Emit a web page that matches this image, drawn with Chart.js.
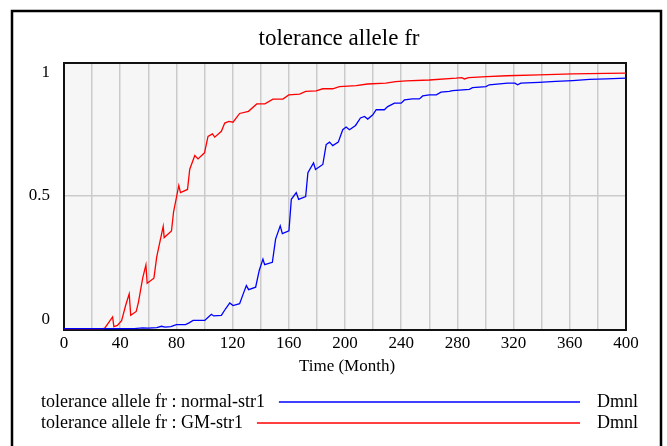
<!DOCTYPE html>
<html>
<head>
<meta charset="utf-8">
<script src="https://cdn.jsdelivr.net/npm/chart.js@4.4.1/dist/chart.umd.min.js"></script>
<style>
  html, body { margin: 0; padding: 0; background: #fff; }
  #wrap { position: relative; width: 667px; height: 446px; }
</style>
</head>
<body>
<div id="wrap"><canvas id="alleleChart" width="667" height="446"></canvas></div>
<script>
/* global Chart */

const chartTitle = 'tolerance allele fr'
const xAxisTitle = 'Time (Month)'
const unitLabel = 'Dmnl'
const seriesNames = ['tolerance allele fr : normal-str1', 'tolerance allele fr : GM-str1']

const xTickValues = [0, 40, 80, 120, 160, 200, 240, 280, 320, 360, 400]
const yTickValues = [0, 0.5, 1]

// normal-str1 (blue)
const blueMonths = [0, 50, 56, 60, 66, 69.4, 72, 76, 80, 86.5, 89, 91.9, 100.2, 103, 104.9, 106.5, 112, 115, 118, 120.3,
  125, 127.5, 129.8, 131.4, 136.4, 139, 141.6, 142.8, 148.3, 150.6, 153.9, 155.4, 160.1, 161.8, 165.3, 167, 172, 173.6,
  177.6, 179, 184.2, 186.6, 189, 191.3, 195.2, 198.4, 200.8, 203.2, 207.5, 211, 213.9, 216.2, 219.8, 222.2, 228, 230.4,
  235.2, 240, 242.3, 248, 253, 255.3, 260, 265, 268.3, 274.2, 276.6, 288.5, 290.8, 300.3, 302.7, 315.7, 321, 322.8,
  325.2, 338, 350, 362, 374, 386, 400]
const blueValues = [0, 0, 0.003, 0.002, 0.004, 0.009, 0.006, 0.008, 0.015, 0.015, 0.022, 0.031, 0.031, 0.045, 0.054, 0.048,
  0.05, 0.075, 0.097, 0.087, 0.094, 0.13, 0.162, 0.147, 0.156, 0.22, 0.262, 0.241, 0.25, 0.337, 0.387, 0.358, 0.368,
  0.487, 0.512, 0.487, 0.497, 0.587, 0.624, 0.599, 0.618, 0.693, 0.702, 0.689, 0.702, 0.749, 0.759, 0.749, 0.765, 0.793,
  0.799, 0.789, 0.805, 0.824, 0.824, 0.836, 0.849, 0.849, 0.861, 0.865, 0.865, 0.876, 0.88, 0.88, 0.89, 0.893, 0.896,
  0.901, 0.907, 0.911, 0.918, 0.924, 0.924, 0.918, 0.924, 0.927, 0.931, 0.934, 0.938, 0.94, 0.943]

// GM-str1 (red)
const redMonths = [0, 28, 29, 34.6, 35.5, 38, 41, 44, 46.4, 47.5, 51.4, 53, 56, 58.3, 59.2, 64, 66, 70.6, 71.3, 76.5, 78,
  81.7, 82.9, 87.9, 89.5, 93.1, 95.4, 100, 102.5, 105.6, 107.3, 112, 114.4, 117.4, 120.3, 125, 131.3, 137.2, 143, 148.7,
  155.8, 160, 167.7, 172, 179.5, 184.2, 191.3, 196, 208, 216, 229, 236, 243.5, 260, 279, 283, 285, 288, 301, 315, 338,
  362, 386, 400]
const redValues = [0, 0, 0.002, 0.044, 0.008, 0.012, 0.03, 0.09, 0.131, 0.05, 0.065, 0.1, 0.19, 0.24, 0.171, 0.19, 0.27,
  0.385, 0.343, 0.368, 0.44, 0.539, 0.512, 0.524, 0.6, 0.652, 0.639, 0.662, 0.724, 0.733, 0.721, 0.743, 0.774, 0.78,
  0.777, 0.81, 0.818, 0.846, 0.846, 0.864, 0.864, 0.88, 0.883, 0.893, 0.895, 0.903, 0.903, 0.911, 0.915, 0.921, 0.924,
  0.93, 0.933, 0.936, 0.943, 0.945, 0.94, 0.945, 0.949, 0.952, 0.955, 0.959, 0.961, 0.962]

const seriesColors = ['#0000ff', '#ff0000']
const serif = '"Liberation Serif", "DejaVu Serif", serif'

function toPoints (xs, ys) {
  return xs.map((x, i) => ({ x, y: ys[i] }))
}

const vensimFrame = {
  id: 'vensimFrame',
  beforeDraw (chart) {
    const { ctx, chartArea: a } = chart
    ctx.save()
    ctx.fillStyle = '#ffffff'
    ctx.fillRect(0, 0, chart.width, chart.height)
    ctx.fillStyle = '#f6f6f6'
    ctx.fillRect(a.left, a.top, a.right - a.left, a.bottom - a.top)
    // outer window border
    ctx.strokeStyle = '#000'
    ctx.lineWidth = 2.5
    ctx.beginPath()
    ctx.moveTo(12, chart.height + 5)
    ctx.lineTo(12, 11)
    ctx.lineTo(661, 11)
    ctx.lineTo(661, chart.height + 5)
    ctx.stroke()
    ctx.restore()
  },
  beforeDatasetsDraw (chart) {
    const { ctx, chartArea: a } = chart
    ctx.save()
    ctx.strokeStyle = '#111'
    ctx.lineWidth = 2
    ctx.strokeRect(a.left, a.top, a.right - a.left, a.bottom - a.top)
    ctx.restore()
  },
  afterDraw (chart) {
    const { ctx, chartArea: a } = chart
    const xs = chart.scales.x
    const ys = chart.scales.y
    ctx.save()
    ctx.fillStyle = '#000'

    ctx.font = `23px ${serif}`
    ctx.textAlign = 'center'
    ctx.textBaseline = 'middle'
    ctx.fillText(chartTitle, (a.left + a.right) / 2 - 6, 39)

    ctx.font = `17px ${serif}`
    xTickValues.forEach(v => {
      ctx.fillText(String(v), xs.getPixelForValue(v), 344)
    })
    ctx.fillText(xAxisTitle, (a.left + a.right) / 2 + 2, 367)

    // vensim pulls the end labels inside the plot
    ctx.textAlign = 'right'
    yTickValues.forEach((v, i) => {
      let py = ys.getPixelForValue(v)
      if (i === yTickValues.length - 1) py += 10
      if (i === 0) py -= 9
      ctx.fillText(String(v), 50, py)
    })

    // legend
    ctx.font = `18px ${serif}`
    const rowY = [402, 423]
    chart.data.datasets.forEach((ds, i) => {
      ctx.textAlign = 'left'
      ctx.fillStyle = '#000'
      ctx.fillText(ds.label, 41, rowY[i])
      const end = 41 + ctx.measureText(ds.label).width
      ctx.strokeStyle = ds.borderColor
      ctx.lineWidth = 1.5
      ctx.beginPath()
      ctx.moveTo(end + 14, rowY[i])
      ctx.lineTo(580, rowY[i])
      ctx.stroke()
      ctx.fillText(unitLabel, 597, rowY[i])
    })
    ctx.restore()
  }
}

const ctx = document.getElementById('alleleChart').getContext('2d')

new Chart(ctx, {
  type: 'line',
  data: {
    datasets: [
      {
        label: seriesNames[0],
        data: toPoints(blueMonths, blueValues),
        borderColor: seriesColors[0],
        borderWidth: 1.3,
        pointRadius: 0,
        tension: 0
      },
      {
        label: seriesNames[1],
        data: toPoints(redMonths, redValues),
        borderColor: seriesColors[1],
        borderWidth: 1.3,
        pointRadius: 0,
        tension: 0
      }
    ]
  },
  options: {
    responsive: false,
    animation: false,
    layout: { padding: { left: 64, right: 41, top: 63, bottom: 116 } },
    plugins: {
      legend: { display: false },
      tooltip: { enabled: false },
      title: { display: false }
    },
    scales: {
      x: {
        type: 'linear',
        min: 0,
        max: 400,
        ticks: { display: false, stepSize: 20 },
        grid: { color: '#cbcbcb', lineWidth: 1.5, drawTicks: false },
        border: { display: false }
      },
      y: {
        min: -0.005,
        max: 1,
        afterBuildTicks: (axis) => { axis.ticks = [{ value: 0.5 }] },
        ticks: { display: false },
        grid: { color: '#cbcbcb', lineWidth: 1.5, drawTicks: false },
        border: { display: false }
      }
    }
  },
  plugins: [vensimFrame]
})
</script>
</body>
</html>
